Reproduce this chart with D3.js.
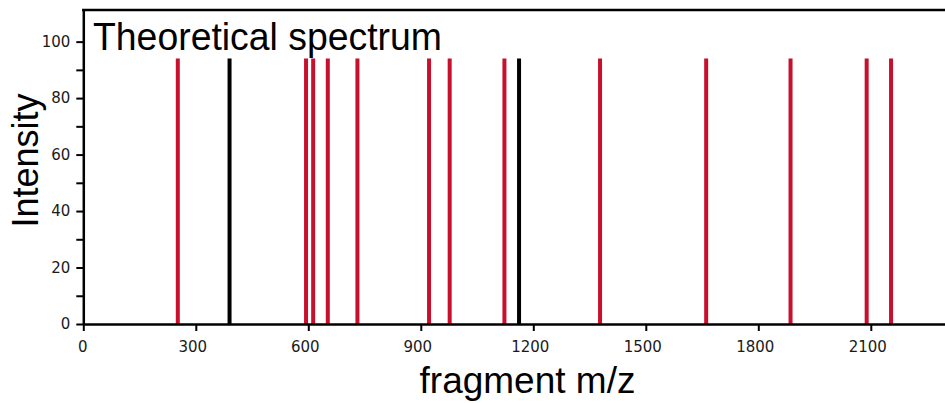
<!DOCTYPE html>
<html>
<head>
<meta charset="utf-8">
<script src="https://cdn.jsdelivr.net/npm/d3@7"></script>
<style>
  html, body { margin: 0; padding: 0; background: #fff; }
  svg { display: block; }
</style>
</head>
<body>
<svg id="chart" width="945" height="403"></svg>
<script>
// Theoretical fragment peaks: m/z, relative intensity, and ion class
const peakMz = [252, 390, 594, 613, 652, 731, 922, 977, 1123, 1162, 1378, 1661, 1886, 2089, 2154];
const peakIntensity = [94, 94, 94, 94, 94, 94, 94, 94, 94, 94, 94, 94, 94, 94, 94];
const peakClass = ["frag", "precursor", "frag", "frag", "frag", "frag", "frag", "frag", "frag", "precursor", "frag", "frag", "frag", "frag", "frag"];

const xTickValues = [0, 300, 600, 900, 1200, 1500, 1800, 2100];
const yTickValues = [0, 10, 20, 30, 40, 50, 60, 70, 80, 90, 100];
const yLabelValues = [0, 20, 40, 60, 80, 100];

const titleText = "Theoretical spectrum";
const xTitle = "fragment m/z";
const yTitle = "Intensity";

const classColor = { frag: "#c8102e", precursor: "#000000" };

const svg = d3.select("#chart");
const plotLeft = 83.3, plotRight = 945.8, plotTop = 10, plotBottom = 324;

const x = d3.scaleLinear().domain([0, 2300]).range([plotLeft, plotRight]);
const y = d3.scaleLinear().domain([0, 111.2]).range([plotBottom, plotTop]);

const peaks = peakMz.map((mz, i) => ({ mz, intensity: peakIntensity[i], cls: peakClass[i] }));

// peak sticks
svg.append("g")
  .selectAll("line")
  .data(peaks)
  .join("line")
  .attr("x1", d => x(d.mz))
  .attr("x2", d => x(d.mz))
  .attr("y1", y(0))
  .attr("y2", d => y(d.intensity))
  .attr("stroke", d => classColor[d.cls])
  .attr("stroke-width", 4);

const tickFont = "'DejaVu Sans', Verdana, sans-serif";

// x axis
const xAxis = svg.append("g")
  .attr("transform", `translate(0,${plotBottom})`)
  .call(d3.axisBottom(x).tickValues(xTickValues).tickFormat(d3.format("d"))
    .tickSize(7).tickPadding(10).tickSizeOuter(0));
xAxis.select(".domain").attr("stroke", "#000").attr("stroke-width", 2.5);
xAxis.selectAll(".tick line").attr("stroke", "#000").attr("stroke-width", 2);
xAxis.selectAll(".tick text")
  .attr("font-family", tickFont)
  .attr("font-size", 15)
  .attr("fill", "#1a1a1a")
  .attr("dx", d => d === 0 ? -1 : -3.5);

// y axis
const yAxis = svg.append("g")
  .attr("transform", `translate(${plotLeft},0)`)
  .call(d3.axisLeft(y).tickValues(yTickValues).tickSize(7).tickPadding(6).tickSizeOuter(0)
    .tickFormat(d => yLabelValues.includes(d) ? d3.format("d")(d) : ""));
yAxis.select(".domain").attr("stroke", "#000").attr("stroke-width", 2.5);
yAxis.selectAll(".tick line").attr("stroke", "#000").attr("stroke-width", 2);
yAxis.selectAll(".tick text")
  .attr("font-family", tickFont)
  .attr("font-size", 15)
  .attr("fill", "#1a1a1a");

// top frame line
svg.append("line")
  .attr("x1", plotLeft - 1.25).attr("x2", 945)
  .attr("y1", plotTop).attr("y2", plotTop)
  .attr("stroke", "#000").attr("stroke-width", 2.5);

// title inside the plot
svg.append("text")
  .attr("x", 93).attr("y", 50)
  .attr("font-family", "'Liberation Sans', Arial, sans-serif")
  .attr("font-size", 38)
  .attr("textLength", 349)
  .attr("lengthAdjust", "spacingAndGlyphs")
  .attr("fill", "#000")
  .text(titleText);

// axis titles
svg.append("text")
  .attr("x", 527.5).attr("y", 393)
  .attr("text-anchor", "middle")
  .attr("font-family", "'Liberation Sans', Arial, sans-serif")
  .attr("font-size", 37)
  .attr("fill", "#000")
  .text(xTitle);

svg.append("text")
  .attr("transform", "translate(38,160.5) rotate(-90)")
  .attr("text-anchor", "middle")
  .attr("font-family", "'Liberation Sans', Arial, sans-serif")
  .attr("font-size", 36)
  .attr("fill", "#000")
  .text(yTitle);
</script>
</body>
</html>
